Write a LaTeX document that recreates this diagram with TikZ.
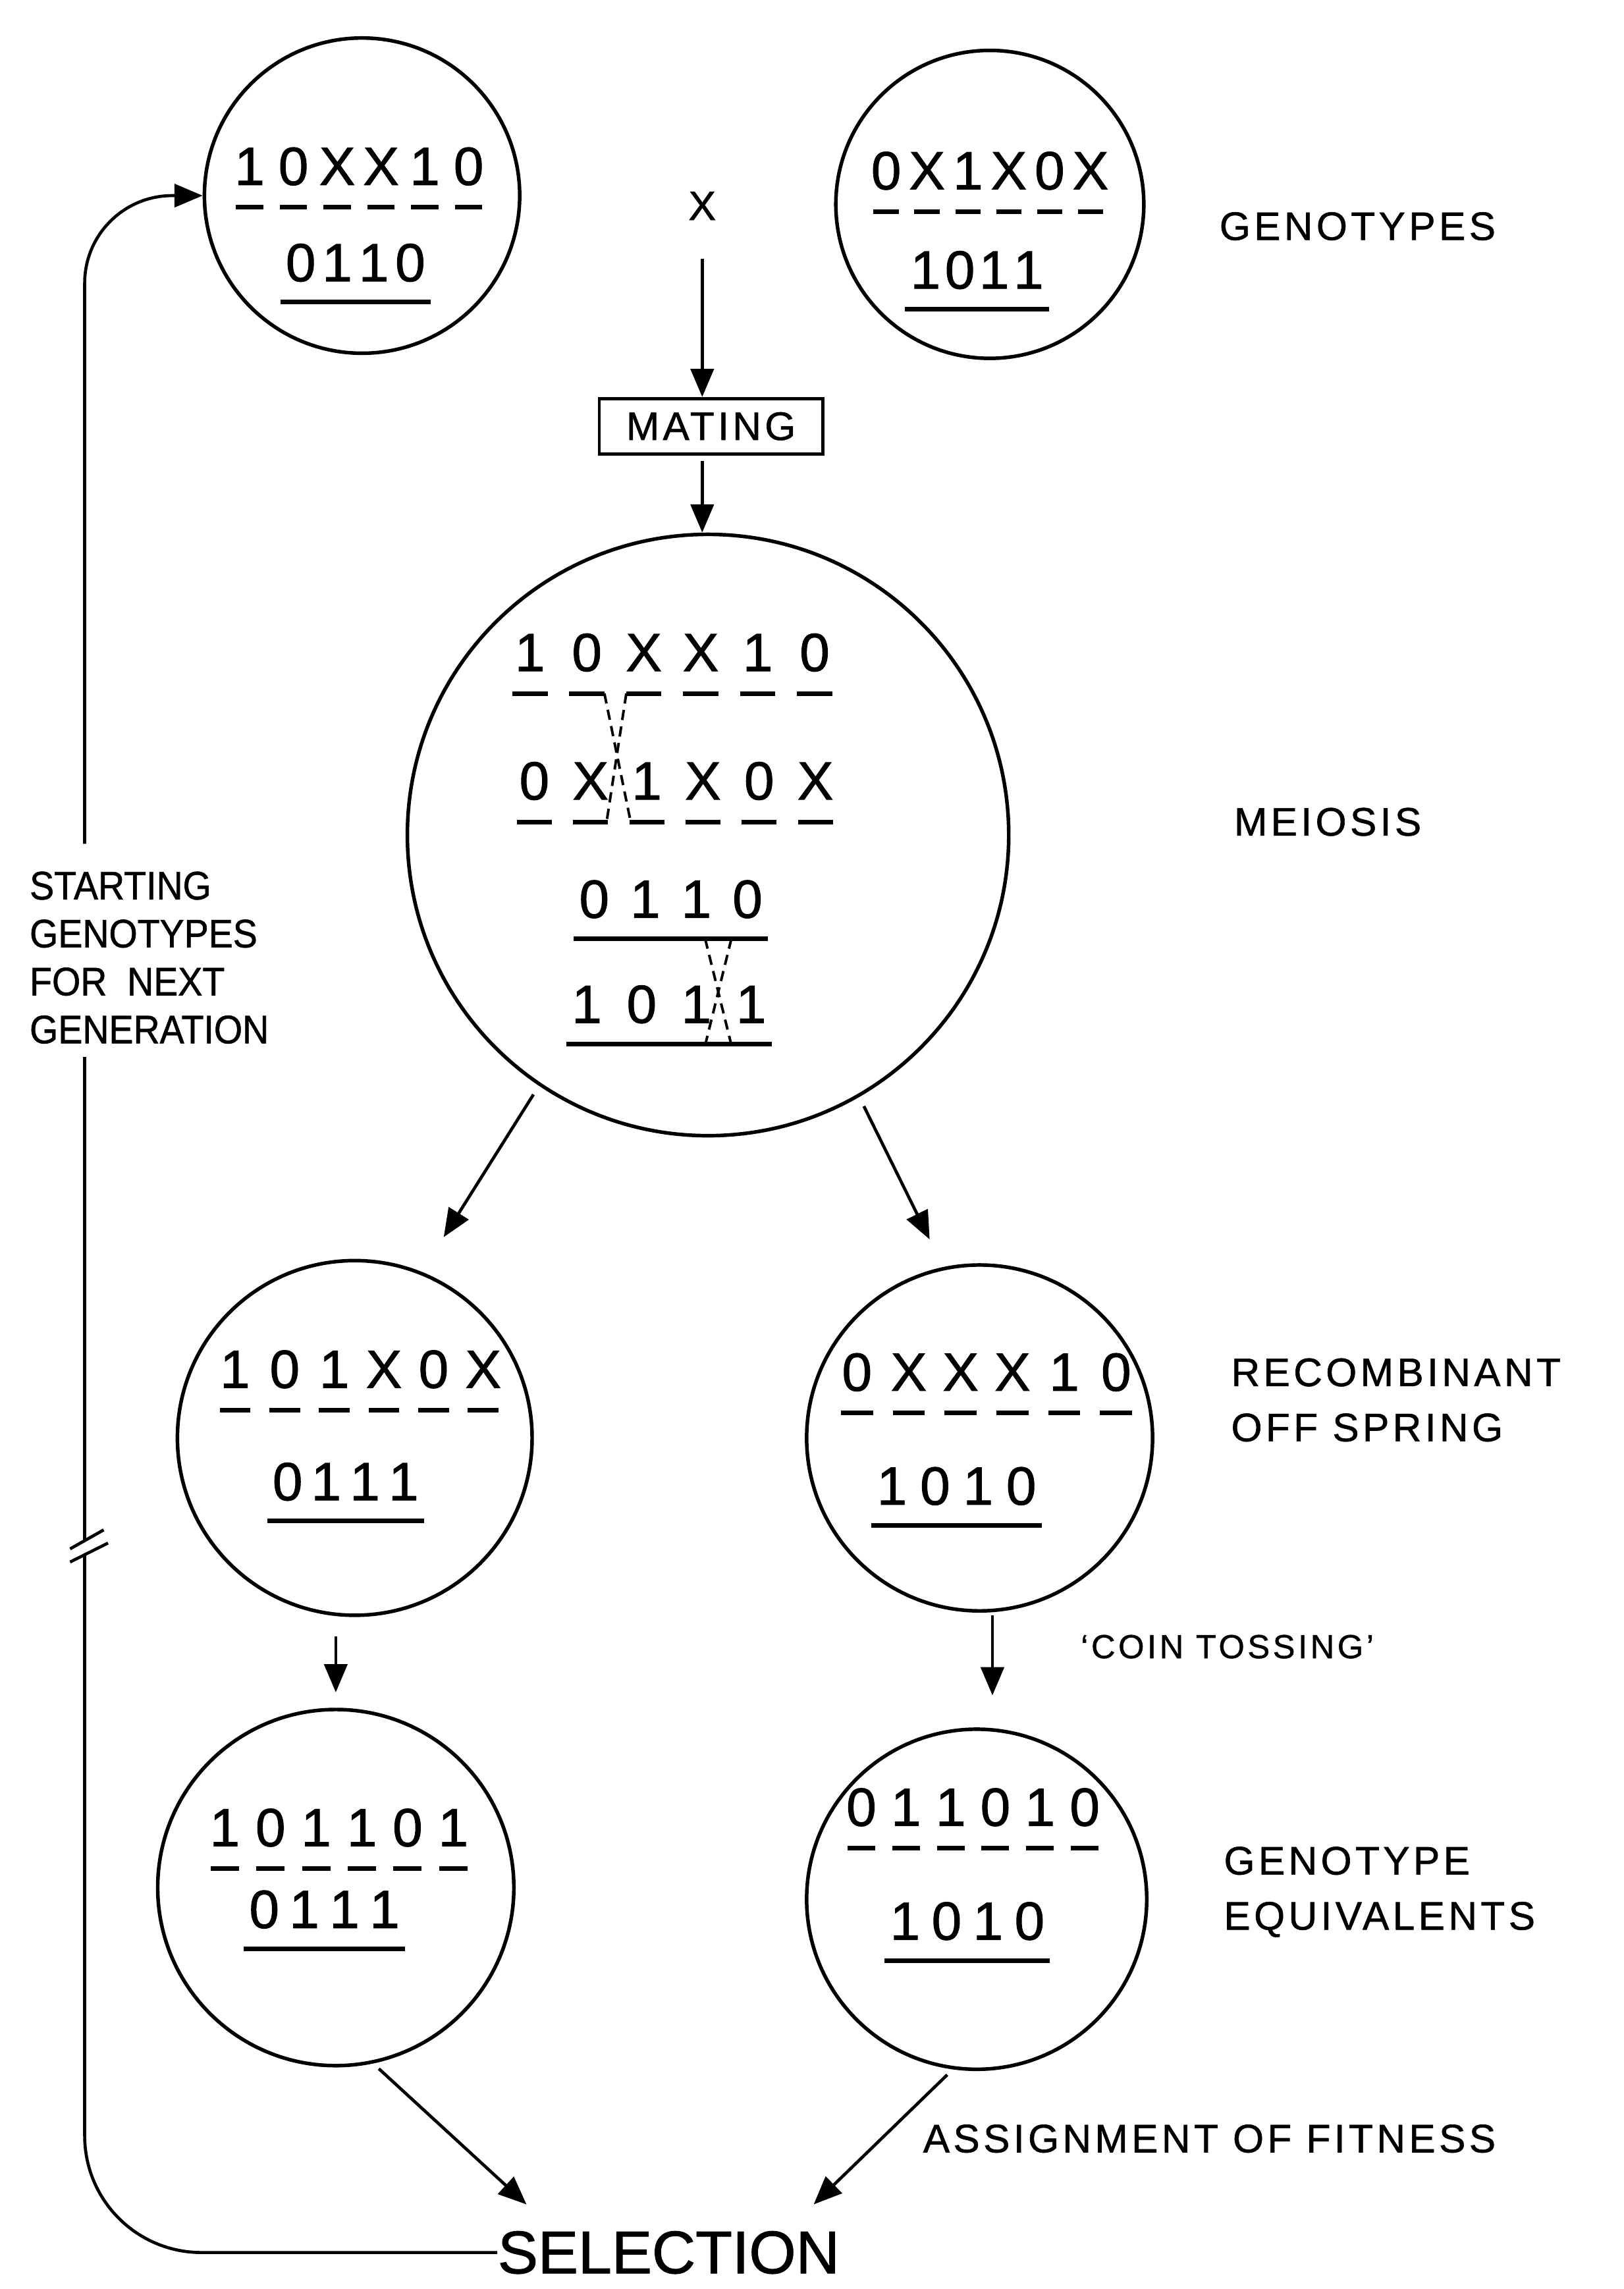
\documentclass[tikz,border=0pt]{standalone}
\usepackage{fontspec}
\setmainfont{Liberation Sans}
\newfontfamily\genofont[FakeBold=1.2]{Liberation Sans}
\newfontfamily\widefont[LetterSpace=9, FakeBold=1]{Liberation Sans}
\newfontfamily\narrowfont[FakeStretch=0.92, FakeBold=1]{Liberation Sans}
\usetikzlibrary{arrows.meta, positioning, calc}

% first chromosome of a pair: one dash under each locus
\newcommand{\dashedrow}[5]{%
    \foreach \c [count=\i from 0] in {#5} {
        \node[allele] (#1-\i) at ({#2+\i*#4}, #3) {\c};
        \draw[chrom] ($(#1-\i)+({-0.31*#4}, 28)$) -- ++({0.62*#4}, 0);
    }}
% second chromosome: one line under the four loci
\newcommand{\solidrow}[5]{%
    \foreach \c [count=\i from 0] in {#5} {
        \node[allele] (#1-\i) at ({#2+\i*#4}, #3) {\c};
    }
    \draw[chrom] ($(#1-0)+(-14, 27)$) -- ($(#1-3)+(14, 27)$);}

\begin{document}
\begin{tikzpicture}[
    x = 0.02cm, y = -0.02cm,
    geno/.style = {circle, draw, line width=1.4pt},
    allele/.style = {inner sep=0pt, font=\genofont\fontsize{21}{25}\selectfont},
    chrom/.style = {line width=1.8pt},
    swap/.style = {line width=1pt, dash pattern=on 4pt off 2.5pt},
    arr/.style = {-{Triangle[length=11pt,width=9pt]}, line width=1.2pt},
    feed/.style = {line width=1.2pt},
    lbl/.style = {anchor=west, inner sep=0pt, align=left,
                  font=\widefont\fontsize{15.5}{21.5}\selectfont}
]
\useasboundingbox (0,0) rectangle (1112,1568);

%% Parents
\node[geno, minimum size=4.32cm] (par1) at (248,134) {};
\node[geno, minimum size=4.22cm] (par2) at (678,140) {};
\dashedrow{p1a}{171}{114}{30}{1,0,X,X,1,0}
\solidrow{p1b}{206}{180}{25}{0,1,1,0}
\dashedrow{p2a}{607}{117}{28}{0,X,1,X,0,X}
\solidrow{p2b}{634}{185}{23.5}{1,0,1,1}

\node[inner sep=0pt, font=\genofont\fontsize{16}{19}\selectfont] (cross) at (481,141) {X};
\node[draw, line width=1.2pt, minimum width=3.06cm, minimum height=0.76cm,
      font=\widefont\fontsize{15.5}{19}\selectfont] (mating) at (487,292) {MATING};

%% Meiosis
\node[geno, minimum size=8.24cm] (meio) at (485,572) {};
\dashedrow{m1}{363}{447}{39}{1,0,X,X,1,0}
\dashedrow{m2}{366}{535}{38.5}{0,X,1,X,0,X}
\solidrow{m3}{407}{616}{35}{0,1,1,0}
\solidrow{m4}{402}{688}{37.5}{1,0,1,1}
% crossing-over
\draw[swap] ($(m1-1)+(12,28)$) -- ($(m2-2)+(-11,28)$);
\draw[swap] ($(m1-2)+(-12,28)$) -- ($(m2-1)+(11,28)$);
\draw[swap] ($(m3-2)+(6,27)$) -- ($(m4-2)+(24,28)$);
\draw[swap] ($(m3-2)+(24,27)$) -- ($(m4-2)+(6,28)$);

%% Offspring and their equivalents
\node[geno, minimum size=4.86cm] (off1) at (243,985) {};
\node[geno, minimum size=4.74cm] (off2) at (671,985) {};
\node[geno, minimum size=4.88cm] (equ1) at (230,1293) {};
\node[geno, minimum size=4.66cm] (equ2) at (669,1301) {};
\dashedrow{o1a}{161}{938}{34}{1,0,1,X,0,X}
\solidrow{o1b}{197}{1015}{26.5}{0,1,1,1}
\dashedrow{o2a}{587}{940}{35.5}{0,X,X,X,1,0}
\solidrow{o2b}{611}{1018}{29.5}{1,0,1,0}
\dashedrow{e1a}{154}{1252}{31.3}{1,0,1,1,0,1}
\solidrow{e1b}{181}{1308}{27.5}{0,1,1,1}
\dashedrow{e2a}{590}{1238}{30.6}{0,1,1,0,1,0}
\solidrow{e2b}{620}{1316}{28.4}{1,0,1,0}

\node[inner sep=0pt, font=\genofont\fontsize{23.5}{28}\selectfont] (sel) at (458,1543) {SELECTION};

%% Labels
\node[lbl] (lgeno) at (835,155) {GENOTYPES};
\node[lbl] (lmeio) at (845,563) {MEIOSIS};
\node[lbl] (lrec)  at (843,959) {RECOMBINANT\\OFF SPRING};
\node[lbl] (lequ)  at (838,1296) {GENOTYPE\\EQUIVALENTS};
\node[lbl] (lfit)  at (632,1465) {ASSIGNMENT OF FITNESS};
\node[lbl, font=\widefont\fontsize{13}{16}\selectfont] (lcoin) at (740,1128) {‘COIN TOSSING’};
\node[anchor=west, inner sep=0pt, align=left,
      font=\narrowfont\fontsize{15.5}{18.7}\selectfont]
    (lnext) at (20,656) {STARTING\\GENOTYPES\\FOR~~NEXT\\GENERATION};

%% Arrows
\draw[arr, shorten <=15pt] (cross.south) -- (cross |- mating.north);
\draw[arr, shorten <=2pt] (mating.south -| cross) -- (cross |- meio.north);
\draw[arr, shorten <=4pt, shorten >=16pt] (meio.236) -- (off1.68);
\draw[arr, shorten <=4pt, shorten >=12pt] (meio.300) -- (off2.102);
\draw[arr, shorten <=7.5pt, shorten >=6pt] (equ1.north |- off1.south) -- (equ1.north);
\draw[arr, shorten <=1pt, shorten >=12.5pt]
    ([xshift=5pt]off2.south) -- ([xshift=5pt]off2.south |- equ2.north);
\draw[arr, shorten <=3pt] (equ1.282) -- ([shift={(20,-18)}]sel.north west);
\draw[arr, shorten <=3pt] (equ2.262) -- ([shift={(-18,-18)}]sel.north east);

%% Back to the next generation
\coordinate (brk)  at (58,1057);
\coordinate (gapT) at (58,578);
\coordinate (gapB) at (58,724);
\draw[feed, rounded corners=1.6cm] (sel.west) -- (sel.west -| brk) -- ($(brk)+(0,8)$);
\draw[feed] ($(brk)+(0,-2)$) -- (gapB);
\draw[feed] ($(brk)+(-10,4)$) -- ($(brk)+(13,-9)$);
\draw[feed] ($(brk)+(-10,13)$) -- ($(brk)+(16,0)$);
\draw[feed, arr, rounded corners=1.2cm] (gapT) -- (gapT |- par1.west) -- (par1.west);

\end{tikzpicture}
\end{document}
